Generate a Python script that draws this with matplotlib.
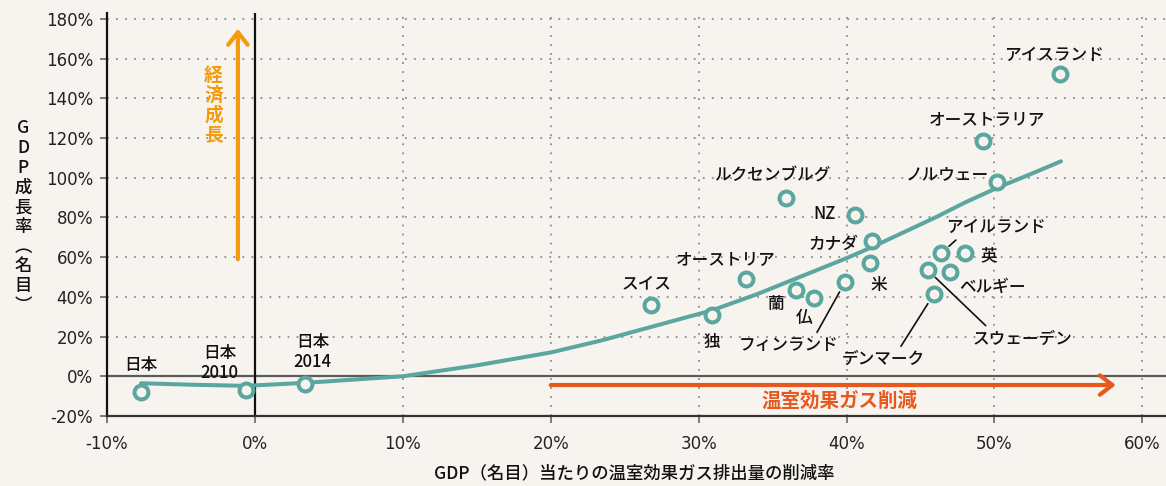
import matplotlib

matplotlib.use("Agg")
import matplotlib.pyplot as plt

plt.rcParams["font.family"] = ["Noto Sans CJK JP", "DejaVu Sans"]

# GDP(名目)当たりの温室効果ガス排出量の削減率 [%] と GDP成長率(名目) [%]
countries = [
    "日本", "日本\n2010", "日本\n2014", "スイス", "独", "オーストリア", "ルクセンブルグ",
    "蘭", "仏", "フィンランド", "NZ", "カナダ", "米", "デンマーク", "スウェーデン",
    "アイルランド", "英", "ベルギー", "ノルウェー", "オーストラリア", "アイスランド",
]
ghg_cut = [
    -7.7, -0.6, 3.4, 26.8, 30.9, 33.2, 35.9,
    36.6, 37.8, 39.9, 40.6, 41.7, 41.6, 45.9, 45.5,
    46.4, 48.0, 47.0, 50.2, 49.2, 54.4,
]
gdp_growth = [
    -7.8, -6.7, -4.0, 35.8, 30.7, 48.9, 89.7,
    43.3, 39.3, 47.4, 81.1, 68.0, 56.9, 41.3, 53.4,
    62.0, 61.9, 52.4, 97.7, 118.4, 152.1,
]

# trend curve
trend_x = [-7.7, -4, -0.6, 3.4, 7, 10, 15, 20, 23.4, 27, 30.9, 34, 37, 40, 41.7,
           44, 46, 48, 50.2, 52.5, 54.5]
trend_y = [-3.5, -4.3, -4.8, -3.3, -1.5, 0, 5.5, 12, 18, 25.3, 33.2, 41.5, 50.5,
           59.5, 65, 73, 80, 87.5, 95, 102, 108.3]

x_ticks = [-10, 0, 10, 20, 30, 40, 50, 60]
y_ticks = [-20, 0, 20, 40, 60, 80, 100, 120, 140, 160, 180]

BG = "#f7f4ef"
TEAL = "#5ba69f"
AMBER = "#f39a0e"
RED_ORANGE = "#e8581c"

# label centres (data coords)
label_pos = {
    "日本": (-7.7, 5.5),
    "日本\n2010": (-2.4, 6.8),
    "日本\n2014": (3.9, 12.4),
    "スイス": (26.5, 46.9),
    "独": (30.9, 17.1),
    "オーストリア": (31.8, 58.4),
    "ルクセンブルグ": (35.0, 101.0),
    "蘭": (35.2, 36.3),
    "仏": (37.1, 29.2),
    "フィンランド": (36.1, 15.6),
    "NZ": (38.5, 81.6),
    "カナダ": (39.1, 67.0),
    "米": (42.2, 45.8),
    "デンマーク": (42.5, 8.6),
    "スウェーデン": (51.9, 19.1),
    "アイルランド": (50.1, 75.0),
    "英": (49.6, 61.0),
    "ベルギー": (49.9, 45.3),
    "ノルウェー": (46.8, 102.0),
    "オーストラリア": (49.5, 129.0),
    "アイスランド": (54.0, 162.0),
}
# labels joined to their circle with a thin line: (relpos on text, shrink at point)
leaders = {
    "フィンランド": ((0.76, 1.0), 8.0),
    "デンマーク": ((0.68, 1.0), 8.0),
    "スウェーデン": ((0.17, 1.0), 7.5),
    "アイルランド": ((0.14, 0.0), 7.5),
}

fig = plt.figure(figsize=(11.66, 4.86), dpi=100, facecolor=BG)
ax = fig.add_axes([107 / 1166, 1 - 416 / 486, 1 - 107 / 1166, 403 / 486])
ax.set_facecolor(BG)
ax.set_xlim(-10, 61.6)
ax.set_ylim(-20, 183)

for v in x_ticks[2:]:
    ax.axvline(v, color="#8c8c8c", lw=1.3, ls=(0, (1, 4)), zorder=1)
for v in y_ticks[2:]:
    ax.axhline(v, color="#8c8c8c", lw=1.3, ls=(0, (1, 4)), zorder=1)
ax.axhline(0, color="#5a5a5a", lw=1.6, zorder=2)
ax.axvline(0, color="#111111", lw=1.6, zorder=2)

for side in ["top", "right"]:
    ax.spines[side].set_visible(False)
ax.spines["left"].set_color("#111111")
ax.spines["bottom"].set_color("#333333")
ax.spines["left"].set_linewidth(1.6)
ax.spines["bottom"].set_linewidth(1.6)

ax.set_xticks(x_ticks)
ax.set_yticks(y_ticks)
ax.set_xticklabels([f"{v}%" for v in x_ticks])
ax.set_yticklabels([f"{v}%" for v in y_ticks])
ax.tick_params(axis="x", length=5, width=1.2, color="#666666", pad=9, labelsize=12, labelcolor="#222222")
ax.tick_params(axis="y", length=5, width=1.2, color="#666666", pad=5, labelsize=12, labelcolor="#222222")
for lab in ax.get_xticklabels() + ax.get_yticklabels():
    lab.set_fontfamily(["DejaVu Sans"])

ax.plot(trend_x, trend_y, color=TEAL, lw=2.9, solid_capstyle="round", zorder=3)
ax.plot(ghg_cut, gdp_growth, ls="none", marker="o", ms=10, mew=2.9,
        mec=TEAL, mfc=BG, zorder=4)

for name, x, y in zip(countries, ghg_cut, gdp_growth):
    tx, ty = label_pos[name]
    if name in leaders:
        relpos, shrink = leaders[name]
        ax.annotate(name, xy=(x, y), xytext=(tx, ty), ha="center", va="center",
                    fontsize=12, fontweight="medium", color="#111111", linespacing=1.0, zorder=5,
                    arrowprops=dict(arrowstyle="-", color="#111111", lw=1.2,
                                    relpos=relpos, shrinkA=1, shrinkB=shrink))
    else:
        ax.text(tx, ty, name, ha="center", va="center", fontsize=12, fontweight="medium",
                color="#111111", linespacing=1.15, zorder=5)

# direction arrows
ax.annotate("", xy=(-1.15, 175), xytext=(-1.15, 59),
            arrowprops=dict(arrowstyle="->,head_length=0.45,head_width=0.35",
                            color=AMBER, lw=3, mutation_scale=20, shrinkA=0, shrinkB=0))
ax.text(-2.8, 136.5, "\n".join("経済成長"), ha="center", va="center", fontsize=13.5,
        color=AMBER, linespacing=1.05, fontweight="bold")
ax.annotate("", xy=(58.2, -4.4), xytext=(20, -4.4),
            arrowprops=dict(arrowstyle="->,head_length=0.45,head_width=0.35",
                            color=RED_ORANGE, lw=3, mutation_scale=20, shrinkA=0, shrinkB=0))
ax.text(39.5, -12.3, "温室効果ガス削減", ha="center", va="center", fontsize=14,
        color=RED_ORANGE, fontweight="bold")

fig.text(634 / 1166, 1 - 473 / 486, "GDP（名目）当たりの温室効果ガス排出量の削減率",
         ha="center", va="center", fontsize=12.5, fontweight="medium", color="#111111")
fig.text(23 / 1166, 1 - 217 / 486, "\n".join(["G", "D", "P", "成", "長", "率", "︵", "名", "目", "︶"]),
         ha="center", va="center", fontsize=12.5, fontweight="medium", color="#111111",
         linespacing=1.12)

fig.savefig("out.png", dpi=100, facecolor=BG)
